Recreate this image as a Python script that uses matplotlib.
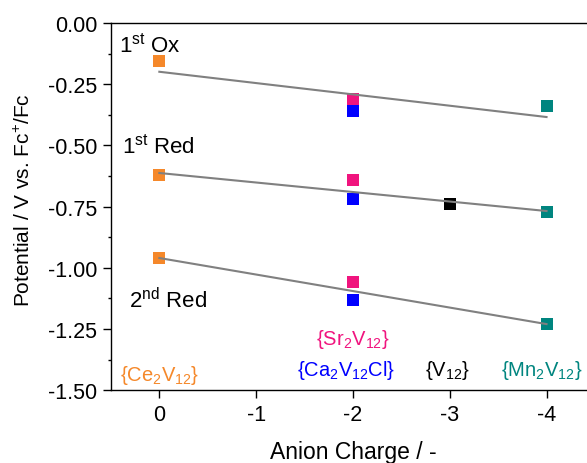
import numpy as np
import matplotlib
matplotlib.use('Agg')
import matplotlib.pyplot as plt

plt.rcParams['font.family'] = 'Liberation Sans'
plt.rcParams['mathtext.fontset'] = 'custom'
plt.rcParams['mathtext.rm'] = 'Liberation Sans'
plt.rcParams['mathtext.default'] = 'regular'

# compounds: anion charge and colour
names = ['{Ce$_2$V$_{12}$}', '{Sr$_2$V$_{12}$}', '{Ca$_2$V$_{12}$Cl}', '{V$_{12}$}', '{Mn$_2$V$_{12}$}']
charge = [0, -2, -2, -3, -4]
colors = ['#F5882A', '#F0147E', '#0000FF', '#000000', '#00857F']

# potentials (V vs Fc+/Fc), None = not measured
ox1 = [-0.155, -0.31, -0.36, None, -0.34]
red1 = [-0.62, -0.64, -0.72, -0.74, -0.77]
red2 = [-0.96, -1.06, -1.13, None, -1.23]

fig = plt.figure(figsize=(5.87, 4.64), dpi=100)
ax = fig.add_axes([0.189, 0.157, 0.8245, 0.791])

for series in [ox1, red1, red2]:
    xs = [c for c, v in zip(charge, series) if v is not None]
    ys = [v for v in series if v is not None]
    for c, v, col in zip(charge, series, colors):
        if v is not None:
            ax.plot(c, v, 's', color=col, markersize=8, markeredgewidth=0, zorder=2)
    # linear fit
    k, b = np.polyfit(xs, ys, 1)
    xf = np.array([0, -4])
    ax.plot(xf, k * xf + b, color='#808080', lw=1.5, zorder=3)

# state labels
ax.text(0.42, -0.086, '1$^{st}$ Ox', fontsize=16, va='center', ha='left')
ax.text(0.39, -0.50, '1$^{st}$ Red', fontsize=16, va='center', ha='left')
ax.text(0.31, -1.13, '2$^{nd}$ Red', fontsize=16, va='center', ha='left')

# compound labels
label_pos = [(0.0, -1.435), (-2.0, -1.29), (-1.93, -1.415), (-2.98, -1.415), (-3.95, -1.415)]
for nm, (lx, ly), col in zip(names, label_pos, colors):
    ax.text(lx, ly, nm, color=col, fontsize=14.5, ha='center', va='center')

ax.set_xlim(0.5, -4.5)
ax.set_ylim(-1.5, 0.0)
ax.set_xticks([0, -1, -2, -3, -4])
ax.set_xticklabels(['0', '-1', '-2', '-3', '-4'])
ax.set_yticks(np.arange(0, -1.51, -0.25))
ax.set_yticks(np.arange(-0.125, -1.5, -0.25), minor=True)
ax.set_yticklabels(['%.2f' % v for v in np.arange(0, -1.51, -0.25)])
ax.tick_params(which='both', direction='out', width=1.0, labelsize=15.5, pad=4)
ax.tick_params(which='major', length=6)
ax.tick_params(which='minor', length=2.5)
for s in ax.spines.values():
    s.set_linewidth(1.0)

ax.set_xlabel('Anion Charge / -', fontsize=16.5, labelpad=11)
ax.set_ylabel('Potential / V vs. Fc$^{+}$/Fc', fontsize=15)
ax.yaxis.set_label_coords(-0.16, 0.52)

fig.savefig('out.png', dpi=100)
